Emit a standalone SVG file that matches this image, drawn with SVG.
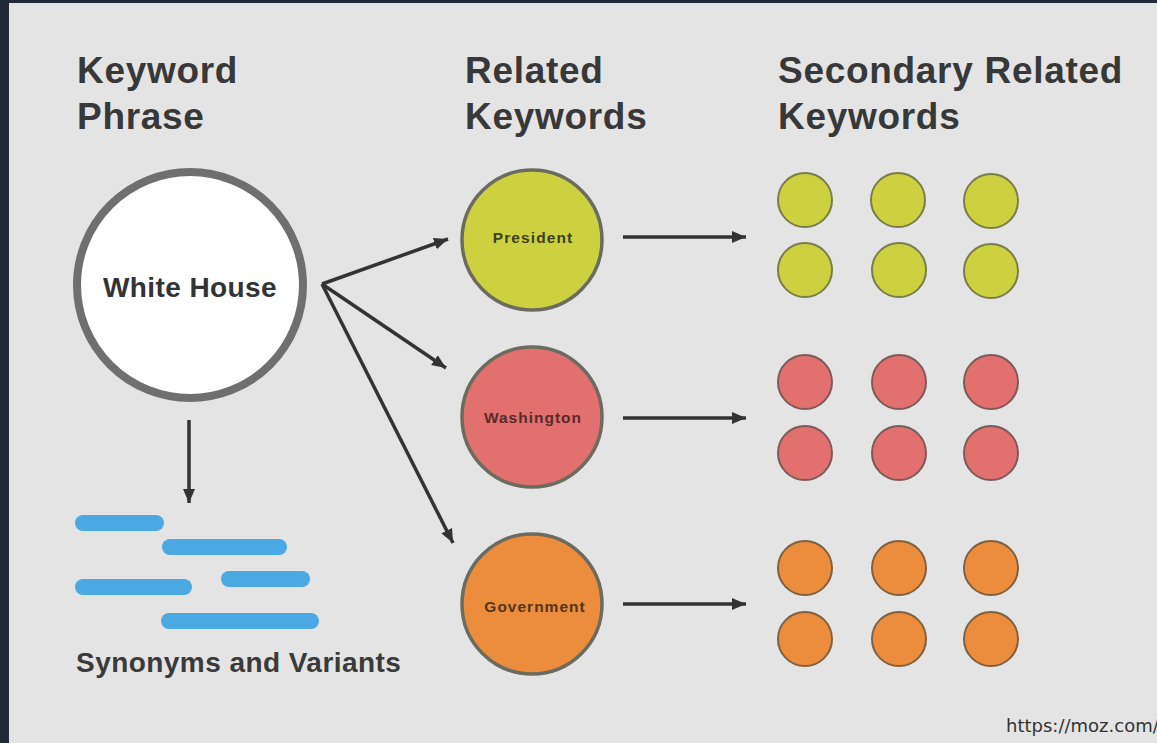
<svg xmlns="http://www.w3.org/2000/svg" width="1157" height="743" viewBox="0 0 1157 743">
<defs>
<style>
.hdr{font-family:"Liberation Sans",Arial,sans-serif;font-weight:bold;font-size:37px;fill:#383838;letter-spacing:0.7px}
.lbl{font-family:"Liberation Sans",Arial,sans-serif;font-weight:bold;text-anchor:middle}
.conn{stroke:#333;stroke-width:3.5;fill:none;marker-end:url(#ah)}
.big{stroke:#6b6b60;stroke-width:3.5}
.y{fill:#cdd13f;stroke:#7a7d4a;stroke-width:2}
.r{fill:#e2706e;stroke:#7d5a5a;stroke-width:2}
.o{fill:#ec8d3e;stroke:#80603f;stroke-width:2}
.bar{fill:#4aa8e2}
</style>
<marker id="ah" markerUnits="userSpaceOnUse" markerWidth="16" markerHeight="14" refX="14" refY="6" orient="auto">
<path d="M0,0 L14,6 L0,12 z" fill="#333"/>
</marker>
</defs>
<rect x="0" y="0" width="1157" height="743" fill="#222a3a"/>
<rect x="9" y="3" width="1148" height="740" fill="#e4e4e4"/>

<g id="headers">
<text class="hdr" x="77" y="83">Keyword</text>
<text class="hdr" x="77" y="129">Phrase</text>
<text class="hdr" x="465" y="83">Related</text>
<text class="hdr" x="465" y="129">Keywords</text>
<text class="hdr" x="778" y="83">Secondary Related</text>
<text class="hdr" x="778" y="129">Keywords</text>
</g>

<g id="connectors">
<line class="conn" x1="322" y1="284" x2="448" y2="239"/>
<line class="conn" x1="322" y1="284" x2="446" y2="368"/>
<line class="conn" x1="322" y1="284" x2="453" y2="543"/>
<line class="conn" x1="623" y1="237" x2="746" y2="237"/>
<line class="conn" x1="623" y1="418" x2="746" y2="418"/>
<line class="conn" x1="623" y1="604" x2="746" y2="604"/>
<line class="conn" x1="189" y1="420" x2="189" y2="503"/>
</g>

<g id="node-whitehouse">
<circle cx="190" cy="285" r="113" fill="#ffffff" stroke="#6f6f6f" stroke-width="8"/>
<text class="lbl" x="190" y="297" font-size="28" fill="#333" letter-spacing="0.4">White House</text>
</g>

<g id="node-president">
<circle class="big" cx="532" cy="240" r="70" fill="#cdd13f"/>
<text class="lbl" x="533" y="243" font-size="15.5" fill="#3f401c" letter-spacing="1.1">President</text>
</g>

<g id="node-washington">
<circle class="big" cx="532" cy="417" r="70" fill="#e2706e"/>
<text class="lbl" x="533" y="423" font-size="15.5" fill="#5a2a2a" letter-spacing="1">Washington</text>
</g>

<g id="node-government">
<circle class="big" cx="532" cy="604" r="70" fill="#ec8d3e"/>
<text class="lbl" x="535" y="612" font-size="15.5" fill="#573318" letter-spacing="1">Government</text>
</g>

<g id="secondary-president">
<circle class="y" cx="805" cy="200" r="27"/>
<circle class="y" cx="898" cy="200" r="27"/>
<circle class="y" cx="991" cy="201" r="27"/>
<circle class="y" cx="805" cy="270" r="27"/>
<circle class="y" cx="899" cy="270" r="27"/>
<circle class="y" cx="991" cy="271" r="27"/>
</g>

<g id="secondary-washington">
<circle class="r" cx="805" cy="382" r="27"/>
<circle class="r" cx="899" cy="382" r="27"/>
<circle class="r" cx="991" cy="382" r="27"/>
<circle class="r" cx="805" cy="453" r="27"/>
<circle class="r" cx="899" cy="453" r="27"/>
<circle class="r" cx="991" cy="453" r="27"/>
</g>

<g id="secondary-government">
<circle class="o" cx="805" cy="568" r="27"/>
<circle class="o" cx="899" cy="568" r="27"/>
<circle class="o" cx="991" cy="568" r="27"/>
<circle class="o" cx="805" cy="639" r="27"/>
<circle class="o" cx="899" cy="639" r="27"/>
<circle class="o" cx="991" cy="639" r="27"/>
</g>

<g id="node-synonyms">
<rect class="bar" x="75" y="515" width="89" height="16" rx="8"/>
<rect class="bar" x="162" y="539" width="125" height="16" rx="8"/>
<rect class="bar" x="75" y="579" width="117" height="16" rx="8"/>
<rect class="bar" x="221" y="571" width="89" height="16" rx="8"/>
<rect class="bar" x="161" y="613" width="158" height="16" rx="8"/>
<text x="76" y="672" font-family="Liberation Sans, Arial, sans-serif" font-weight="bold" font-size="28" fill="#3a3a3a" letter-spacing="0.45">Synonyms and Variants</text>
</g>

<text x="1006" y="732" font-family="DejaVu Sans, sans-serif" font-size="18" fill="#333">https://moz.com/</text>
</svg>
